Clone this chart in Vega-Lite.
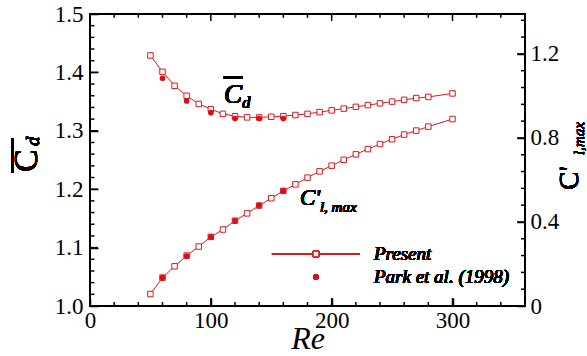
{
  "$schema": "https://vega.github.io/schema/vega-lite/v6.json",
  "width": 435,
  "height": 292,
  "autosize": {"type": "none"},
  "padding": {"left": 90, "top": 14, "right": 62, "bottom": 50},
  "background": "white",
  "config": {
    "view": {"stroke": "black", "strokeWidth": 2},
    "axis": {
      "grid": false,
      "zindex": 1,
      "domain": false,
      "tickColor": "black",
      "tickWidth": 1.5,
      "labelFont": "Liberation Serif",
      "labelFontSize": 23,
      "labelColor": "black",
      "labelOverlap": false,
      "labelFlush": false,
      "titleFont": "Liberation Serif",
      "titleColor": "black"
    },
    "text": {"font": "Liberation Serif", "fill": "black"}
  },
  "datasets": {
    "pts": [
      {"Re": 50, "Cd": 1.429, "Cl": 0.057, "source": "Present"},
      {"Re": 60, "Cd": 1.401, "Cl": 0.135, "source": "Present"},
      {"Re": 70, "Cd": 1.377, "Cl": 0.189, "source": "Present"},
      {"Re": 80, "Cd": 1.360, "Cl": 0.240, "source": "Present"},
      {"Re": 90, "Cd": 1.346, "Cl": 0.283, "source": "Present"},
      {"Re": 100, "Cd": 1.337, "Cl": 0.329, "source": "Present"},
      {"Re": 110, "Cd": 1.329, "Cl": 0.364, "source": "Present"},
      {"Re": 120, "Cd": 1.325, "Cl": 0.406, "source": "Present"},
      {"Re": 130, "Cd": 1.323, "Cl": 0.441, "source": "Present"},
      {"Re": 140, "Cd": 1.323, "Cl": 0.478, "source": "Present"},
      {"Re": 150, "Cd": 1.324, "Cl": 0.513, "source": "Present"},
      {"Re": 160, "Cd": 1.325, "Cl": 0.548, "source": "Present"},
      {"Re": 170, "Cd": 1.327, "Cl": 0.579, "source": "Present"},
      {"Re": 180, "Cd": 1.329, "Cl": 0.611, "source": "Present"},
      {"Re": 190, "Cd": 1.332, "Cl": 0.641, "source": "Present"},
      {"Re": 200, "Cd": 1.335, "Cl": 0.668, "source": "Present"},
      {"Re": 210, "Cd": 1.338, "Cl": 0.696, "source": "Present"},
      {"Re": 220, "Cd": 1.341, "Cl": 0.722, "source": "Present"},
      {"Re": 230, "Cd": 1.344, "Cl": 0.747, "source": "Present"},
      {"Re": 240, "Cd": 1.347, "Cl": 0.771, "source": "Present"},
      {"Re": 250, "Cd": 1.350, "Cl": 0.794, "source": "Present"},
      {"Re": 260, "Cd": 1.353, "Cl": 0.816, "source": "Present"},
      {"Re": 270, "Cd": 1.356, "Cl": 0.835, "source": "Present"},
      {"Re": 280, "Cd": 1.358, "Cl": 0.854, "source": "Present"},
      {"Re": 300, "Cd": 1.364, "Cl": 0.890, "source": "Present"},
      {"Re": 60, "Cd": 1.390, "Cl": 0.135, "source": "Park"},
      {"Re": 80, "Cd": 1.351, "Cl": 0.238, "source": "Park"},
      {"Re": 100, "Cd": 1.331, "Cl": 0.329, "source": "Park"},
      {"Re": 120, "Cd": 1.321, "Cl": 0.406, "source": "Park"},
      {"Re": 140, "Cd": 1.321, "Cl": 0.479, "source": "Park"},
      {"Re": 160, "Cd": 1.321, "Cl": 0.548, "source": "Park"}
    ],
    "xt": [
      {"v": 20}, {"v": 40}, {"v": 60}, {"v": 80}, {"v": 100}, {"v": 120}, {"v": 140}, {"v": 160}, {"v": 180},
      {"v": 200}, {"v": 220}, {"v": 240}, {"v": 260}, {"v": 280}, {"v": 300}, {"v": 320}, {"v": 340}
    ],
    "yl": [
      {"v": 1.02}, {"v": 1.04}, {"v": 1.06}, {"v": 1.08}, {"v": 1.1}, {"v": 1.12}, {"v": 1.14}, {"v": 1.16}, {"v": 1.18},
      {"v": 1.2}, {"v": 1.22}, {"v": 1.24}, {"v": 1.26}, {"v": 1.28}, {"v": 1.3}, {"v": 1.32}, {"v": 1.34}, {"v": 1.36},
      {"v": 1.38}, {"v": 1.4}, {"v": 1.42}, {"v": 1.44}, {"v": 1.46}, {"v": 1.48}
    ],
    "yr": [
      {"v": 0.08}, {"v": 0.16}, {"v": 0.24}, {"v": 0.32}, {"v": 0.4}, {"v": 0.48}, {"v": 0.56}, {"v": 0.64}, {"v": 0.72},
      {"v": 0.8}, {"v": 0.88}, {"v": 0.96}, {"v": 1.04}, {"v": 1.12}, {"v": 1.2}, {"v": 1.28}, {"v": 1.36}
    ]
  },
  "data": {"name": "pts"},
  "layer": [
    {
      "layer": [
        {
          "transform": [{"filter": "datum.source === 'Present'"}],
          "mark": {"type": "line", "color": "#e0181c", "strokeWidth": 1},
          "encoding": {
            "x": {
              "field": "Re", "type": "quantitative",
              "scale": {"domain": [0, 360], "nice": false, "zero": false},
              "axis": {
                "orient": "bottom",
                "values": [0, 100, 200, 300],
                "tickSize": 8,
                "offset": -8,
                "labelPadding": 3,
                "title": "Re",
                "titleFontSize": 32,
                "titleFontStyle": "italic",
                "titleFontWeight": "normal",
                "titlePadding": -9
              }
            },
            "y": {
              "field": "Cd", "type": "quantitative",
              "scale": {"domain": [1, 1.5], "nice": false, "zero": false},
              "axis": {
                "orient": "left",
                "values": [1, 1.1, 1.2, 1.3, 1.4, 1.5],
                "format": ".1f",
                "tickSize": 8,
                "offset": -8,
                "labelPadding": 7,
                "title": null
              }
            }
          }
        },
        {
          "data": {"name": "xt"},
          "transform": [{"filter": "datum.v % 100 === 0"}],
          "mark": {"type": "rule", "color": "black", "strokeWidth": 1.5},
          "encoding": {
            "x": {"field": "v", "type": "quantitative"},
            "y": {"datum": 1.0, "type": "quantitative"},
            "y2": {"datum": 1.0137}
          }
        },
        {
          "data": {"name": "xt"},
          "transform": [{"filter": "datum.v % 100 !== 0"}],
          "mark": {"type": "rule", "color": "black", "strokeWidth": 1.5},
          "encoding": {
            "x": {"field": "v", "type": "quantitative"},
            "y": {"datum": 1.0, "type": "quantitative"},
            "y2": {"datum": 1.0068}
          }
        },
        {
          "data": {"name": "xt"},
          "transform": [{"filter": "datum.v % 100 === 0"}],
          "mark": {"type": "rule", "color": "black", "strokeWidth": 1.5},
          "encoding": {
            "x": {"field": "v", "type": "quantitative"},
            "y": {"datum": 1.5, "type": "quantitative"},
            "y2": {"datum": 1.488}
          }
        },
        {
          "data": {"name": "xt"},
          "transform": [{"filter": "datum.v % 100 !== 0"}],
          "mark": {"type": "rule", "color": "black", "strokeWidth": 1.5},
          "encoding": {
            "x": {"field": "v", "type": "quantitative"},
            "y": {"datum": 1.5, "type": "quantitative"},
            "y2": {"datum": 1.4935}
          }
        },
        {
          "data": {"name": "yl"},
          "transform": [{"filter": "abs(datum.v * 10 - round(datum.v * 10)) < 1e-6"}],
          "mark": {"type": "rule", "color": "black", "strokeWidth": 1.5},
          "encoding": {
            "y": {"field": "v", "type": "quantitative"},
            "x": {"datum": 0, "type": "quantitative"},
            "x2": {"datum": 6.6}
          }
        },
        {
          "data": {"name": "yl"},
          "transform": [{"filter": "abs(datum.v * 10 - round(datum.v * 10)) >= 1e-6"}],
          "mark": {"type": "rule", "color": "black", "strokeWidth": 1.5},
          "encoding": {
            "y": {"field": "v", "type": "quantitative"},
            "x": {"datum": 0, "type": "quantitative"},
            "x2": {"datum": 3.7}
          }
        },
        {
          "transform": [{"filter": "datum.source === 'Present'"}],
          "mark": {"type": "point", "shape": "square", "filled": true, "fill": "white", "stroke": "#e0181c", "strokeWidth": 1, "size": 30, "opacity": 1},
          "encoding": {
            "x": {"field": "Re", "type": "quantitative"},
            "y": {"field": "Cd", "type": "quantitative"}
          }
        },
        {
          "transform": [{"filter": "datum.source === 'Park'"}],
          "mark": {"type": "circle", "color": "#d80f14", "size": 32, "opacity": 1},
          "encoding": {
            "x": {"field": "Re", "type": "quantitative"},
            "y": {"field": "Cd", "type": "quantitative"}
          }
        },
        {
          "mark": {"type": "rule", "color": "black", "strokeWidth": 2},
          "encoding": {
            "x": {"datum": 110.1, "type": "quantitative"},
            "x2": {"datum": 126.6},
            "y": {"datum": 1.3916, "type": "quantitative"}
          }
        },
        {
          "mark": {"type": "text", "text": "C", "fontSize": 27, "fontStyle": "italic", "align": "center", "baseline": "alphabetic"},
          "encoding": {
            "x": {"datum": 118.3, "type": "quantitative"},
            "y": {"datum": 1.3476, "type": "quantitative"}
          }
        },
        {
          "mark": {"type": "text", "text": "d", "fontSize": 17, "fontStyle": "italic", "align": "left", "baseline": "alphabetic"},
          "encoding": {
            "x": {"datum": 125.8, "type": "quantitative"},
            "y": {"datum": 1.339, "type": "quantitative"}
          }
        },
        {
          "mark": {"type": "text", "text": "C'", "fontSize": 23, "fontStyle": "italic", "align": "left", "baseline": "alphabetic"},
          "encoding": {
            "x": {"datum": 173.8, "type": "quantitative"},
            "y": {"datum": 1.173, "type": "quantitative"}
          }
        },
        {
          "mark": {"type": "text", "text": "l, max", "fontSize": 15, "fontStyle": "italic", "align": "left", "baseline": "alphabetic"},
          "encoding": {
            "x": {"datum": 190.3, "type": "quantitative"},
            "y": {"datum": 1.161, "type": "quantitative"}
          }
        },
        {
          "mark": {"type": "rule", "color": "#e0181c", "strokeWidth": 1},
          "encoding": {
            "x": {"datum": 150.6, "type": "quantitative"},
            "x2": {"datum": 223.4},
            "y": {"datum": 1.089, "type": "quantitative"}
          }
        },
        {
          "mark": {"type": "point", "shape": "square", "filled": true, "fill": "white", "stroke": "#e0181c", "strokeWidth": 1, "size": 30, "opacity": 1},
          "encoding": {
            "x": {"datum": 187, "type": "quantitative"},
            "y": {"datum": 1.089, "type": "quantitative"}
          }
        },
        {
          "mark": {"type": "circle", "color": "#d80f14", "size": 32, "opacity": 1},
          "encoding": {
            "x": {"datum": 187, "type": "quantitative"},
            "y": {"datum": 1.0497, "type": "quantitative"}
          }
        },
        {
          "mark": {"type": "text", "text": "Present", "fontSize": 19, "fontStyle": "italic", "align": "left", "baseline": "middle"},
          "encoding": {
            "x": {"datum": 235, "type": "quantitative"},
            "y": {"datum": 1.089, "type": "quantitative"}
          }
        },
        {
          "mark": {"type": "text", "text": "Park et al. (1998)", "fontSize": 19, "fontStyle": "italic", "align": "left", "baseline": "middle"},
          "encoding": {
            "x": {"datum": 235, "type": "quantitative"},
            "y": {"datum": 1.0497, "type": "quantitative"}
          }
        },
        {
          "mark": {"type": "rule", "color": "black", "strokeWidth": 2},
          "encoding": {
            "x": {"datum": -64.1, "type": "quantitative"},
            "y": {"datum": 1.2877, "type": "quantitative"},
            "y2": {"datum": 1.2277}
          }
        },
        {
          "mark": {"type": "text", "text": "C", "fontSize": 34, "angle": 270, "align": "left", "baseline": "alphabetic"},
          "encoding": {
            "x": {"datum": -43.9, "type": "quantitative"},
            "y": {"datum": 1.2295, "type": "quantitative"}
          }
        },
        {
          "mark": {"type": "text", "text": "d", "fontSize": 19, "fontStyle": "italic", "angle": 270, "align": "left", "baseline": "alphabetic"},
          "encoding": {
            "x": {"datum": -42.2, "type": "quantitative"},
            "y": {"datum": 1.274, "type": "quantitative"}
          }
        },
        {
          "mark": {"type": "text", "text": "C'", "fontSize": 28, "angle": 270, "align": "left", "baseline": "alphabetic"},
          "encoding": {
            "x": {"datum": 403.9, "type": "quantitative"},
            "y": {"datum": 1.1986, "type": "quantitative"}
          }
        },
        {
          "mark": {"type": "text", "text": "l,max", "fontSize": 15, "fontStyle": "italic", "angle": 270, "align": "left", "baseline": "alphabetic"},
          "encoding": {
            "x": {"datum": 408.8, "type": "quantitative"},
            "y": {"datum": 1.2586, "type": "quantitative"}
          }
        }
      ]
    },
    {
      "layer": [
        {
          "transform": [{"filter": "datum.source === 'Present'"}],
          "mark": {"type": "line", "color": "#e0181c", "strokeWidth": 1},
          "encoding": {
            "x": {
              "field": "Re", "type": "quantitative",
              "scale": {"domain": [0, 360], "nice": false, "zero": false},
              "axis": null
            },
            "y": {
              "field": "Cl", "type": "quantitative",
              "scale": {"domain": [0, 1.39], "nice": false, "zero": false},
              "axis": {
                "orient": "right",
                "values": [0, 0.4, 0.8, 1.2],
                "labelExpr": "datum.value === 0 ? '0' : format(datum.value, '.1f')",
                "tickSize": 8,
                "offset": -8,
                "labelPadding": 5,
                "title": null
              }
            }
          }
        },
        {
          "data": {"name": "yr"},
          "transform": [{"filter": "abs(datum.v / 0.4 - round(datum.v / 0.4)) < 1e-6"}],
          "mark": {"type": "rule", "color": "black", "strokeWidth": 1.5},
          "encoding": {
            "y": {"field": "v", "type": "quantitative"},
            "x": {"datum": 360, "type": "quantitative"},
            "x2": {"datum": 353.4}
          }
        },
        {
          "data": {"name": "yr"},
          "transform": [{"filter": "abs(datum.v / 0.4 - round(datum.v / 0.4)) >= 1e-6"}],
          "mark": {"type": "rule", "color": "black", "strokeWidth": 1.5},
          "encoding": {
            "y": {"field": "v", "type": "quantitative"},
            "x": {"datum": 360, "type": "quantitative"},
            "x2": {"datum": 356.7}
          }
        },
        {
          "transform": [{"filter": "datum.source === 'Present'"}],
          "mark": {"type": "point", "shape": "square", "filled": true, "fill": "white", "stroke": "#e0181c", "strokeWidth": 1, "size": 30, "opacity": 1},
          "encoding": {
            "x": {"field": "Re", "type": "quantitative"},
            "y": {"field": "Cl", "type": "quantitative"}
          }
        },
        {
          "transform": [{"filter": "datum.source === 'Park'"}],
          "mark": {"type": "circle", "color": "#d80f14", "size": 32, "opacity": 1},
          "encoding": {
            "x": {"field": "Re", "type": "quantitative"},
            "y": {"field": "Cl", "type": "quantitative"}
          }
        }
      ]
    }
  ],
  "resolve": {
    "scale": {"x": "independent", "y": "independent"},
    "axis": {"x": "independent", "y": "independent"}
  }
}
